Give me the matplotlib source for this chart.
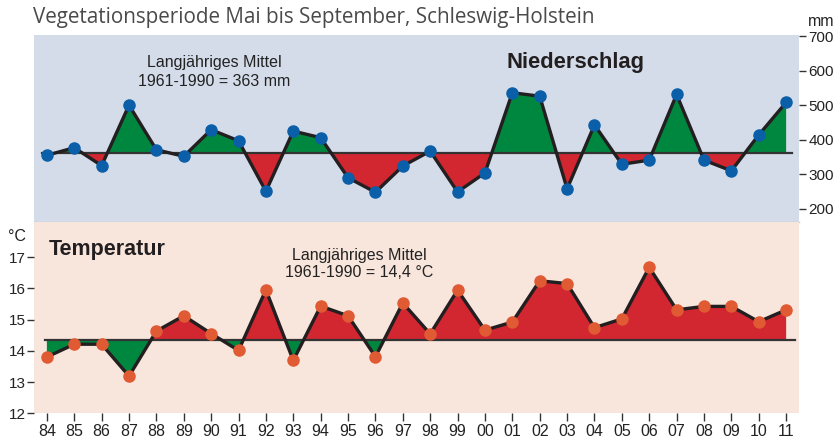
import numpy as np
import matplotlib
matplotlib.use("Agg")
import matplotlib.pyplot as plt

years = ["84", "85", "86", "87", "88", "89", "90", "91", "92", "93", "94", "95", "96", "97",
         "98", "99", "00", "01", "02", "03", "04", "05", "06", "07", "08", "09", "10", "11"]
niederschlag = [355, 377, 325, 500, 371, 352, 429, 397, 251, 425, 406, 290, 248, 324,
                367, 249, 304, 536, 526, 258, 443, 329, 341, 531, 341, 310, 414, 508]
temperatur = [13.80, 14.21, 14.21, 13.19, 14.63, 15.12, 14.55, 14.01, 15.95, 13.69, 15.43, 15.12, 13.81, 15.53,
              14.54, 15.94, 14.66, 14.92, 16.24, 16.15, 14.74, 15.02, 16.67, 15.31, 15.42, 15.42, 14.93, 15.31]
mittel_n = 363
mittel_t = 14.4
mittel_t_drawn = 14.34
n_ticks = [200, 300, 400, 500, 600, 700]
t_ticks = [12, 13, 14, 15, 16, 17]

GREEN = "#00873f"
RED = "#d22630"
BLUE_BG = "#d4dcea"
PINK_BG = "#f8e5dc"
BLUE_DOT = "#0b5ea8"
ORANGE_DOT = "#e05a33"
LINE = "#231f20"

plt.rcParams['font.family'] = ['Liberation Sans', 'DejaVu Sans']

W, H = 838, 437
fig = plt.figure(figsize=(W / 100, H / 100), dpi=100)

def fx(px):
    return px / W

def fy(py):
    return 1 - py / H

left, right = 34, 799
ax1 = fig.add_axes([fx(left), fy(222), fx(right - left), fy(35) - fy(222)])
ax2 = fig.add_axes([fx(left), fy(413.3), fx(right - left), fy(222) - fy(413.3)])

x = np.arange(len(years))
xlim = (-0.47, len(years) - 1 + 0.47)

# --- Niederschlag ---
n = np.array(niederschlag, dtype=float)
ax1.set_facecolor(BLUE_BG)
ax1.fill_between(x, n, mittel_n, where=n >= mittel_n, interpolate=True, color=GREEN, lw=0)
ax1.fill_between(x, n, mittel_n, where=n <= mittel_n, interpolate=True, color=RED, lw=0)
ax1.plot([-0.18, len(years) - 1 + 0.21], [mittel_n, mittel_n], color="#333333", lw=1.6, zorder=3)
ax1.plot(x, n, color=LINE, lw=2.4, zorder=4)
ax1.plot(x, n, 'o', color=BLUE_DOT, ms=8, zorder=5)
ax1.set_xlim(*xlim)
ax1.set_ylim(162, 703)
ax1.yaxis.tick_right()
ax1.set_yticks(n_ticks)
ax1.set_yticklabels([str(v) for v in n_ticks], fontsize=11, color="#222222")
ax1.tick_params(axis='y', length=5, width=1, pad=2, color="#333333")
ax1.set_xticks([])
for s in ["top", "left", "right"]:
    ax1.spines[s].set_visible(False)
ax1.spines["bottom"].set_color("#c4c8d2")
ax1.spines["bottom"].set_linewidth(1)

ax1.text(19.3, 622, "Niederschlag", fontsize=15.8, fontweight="bold", color="#231f20",
         ha="center", va="center")
ax1.text(6.1, 622, "Langjähriges Mittel", fontsize=11.5, color="#222222", ha="center", va="center")
ax1.text(6.1, 568, "1961-1990 = %d mm" % mittel_n, fontsize=11.5, color="#222222", ha="center", va="center")

# --- Temperatur ---
t = np.array(temperatur, dtype=float)
ax2.set_facecolor(PINK_BG)
ax2.fill_between(x, t, mittel_t_drawn, where=t >= mittel_t_drawn, interpolate=True, color=RED, lw=0)
ax2.fill_between(x, t, mittel_t_drawn, where=t <= mittel_t_drawn, interpolate=True, color=GREEN, lw=0)
ax2.plot([-0.07, len(years) - 1 + 0.32], [mittel_t_drawn, mittel_t_drawn], color="#333333", lw=1.6, zorder=3)
ax2.plot(x, t, color=LINE, lw=2.4, zorder=4)
ax2.plot(x, t, 'o', color=ORANGE_DOT, ms=8, zorder=5)
ax2.set_xlim(*xlim)
ax2.set_ylim(12, 18.12)
ax2.set_yticks(t_ticks)
ax2.set_yticklabels([str(v) for v in t_ticks], fontsize=11, color="#222222")
ax2.tick_params(axis='y', length=5, width=1, pad=1, color="#333333")
ax2.set_xticks(x)
ax2.set_xticklabels(years, fontsize=11.5, color="#222222")
ax2.tick_params(axis='x', length=6, width=1, pad=2, color="#333333")
for s in ["top", "left", "right", "bottom"]:
    ax2.spines[s].set_visible(False)

ax2.text(0.08, 17.25, "Temperatur", fontsize=15.5, fontweight="bold", color="#231f20", ha="left", va="center")
ax2.text(11.42, 17.06, "Langjähriges Mittel", fontsize=11.5, color="#222222", ha="center", va="center")
ax2.text(11.42, 16.52, "1961-1990 = 14,4 °C", fontsize=11.5, color="#222222", ha="center", va="center")

# units
fig.text(fx(8), fy(236), "°C", fontsize=11.5, color="#222222", ha="left", va="center")
fig.text(fx(808), fy(22), "mm", fontsize=11.5, color="#222222", ha="left", va="center")

# header
fig.text(fx(33), fy(17), "Vegetationsperiode Mai bis September, Schleswig-Holstein",
         fontsize=14.9, color="#4a4a4a", ha="left", va="center", family=["Open Sans", "DejaVu Sans"])

fig.savefig("out.png", dpi=100)
